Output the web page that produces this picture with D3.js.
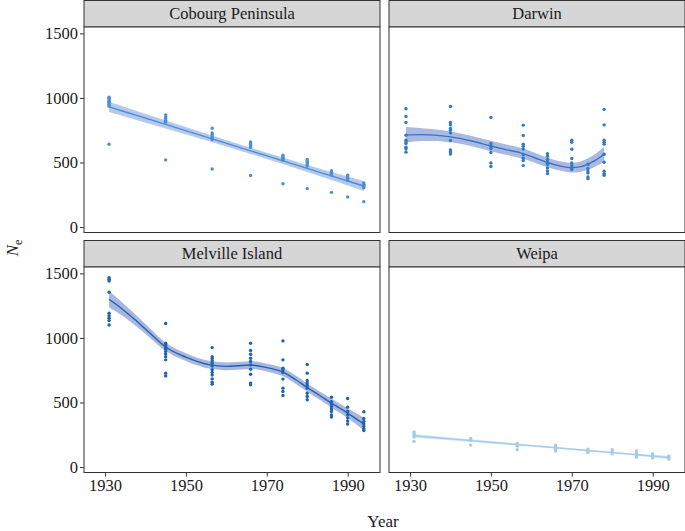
<!DOCTYPE html>
<html>
<head>
<meta charset="utf-8">
<script src="https://cdn.jsdelivr.net/npm/d3@7"></script>
<style>
  body { margin: 0; background: #fff; }
  svg { display: block; }
  svg text { font-family: "Liberation Serif", "Times New Roman", Tinos, Times, "DejaVu Serif", serif !important; fill: #1a1a1a; }
</style>
</head>
<body>
<div id="chart"></div>
<script>
// ---------------- data ----------------
const sites = ["Cobourg Peninsula", "Darwin", "Melville Island", "Weipa"];
const yTicks = [0, 500, 1000, 1500];
const xTicks = [1930, 1950, 1970, 1990];

const sampleYears = [1931, 1945, 1956.5, 1966, 1974, 1980, 1986, 1990, 1994];
const darwinYears = [1929, 1940, 1950, 1958, 1964, 1970, 1974, 1978];

const cobourgNe = [
  [1006, 995, 985, 975, 965, 955, 945, 935, 641],
  [869, 855, 840, 825, 812, 520],
  [766, 729, 715, 700, 690, 678, 450],
  [660, 650, 640, 630, 618, 399],
  [556, 545, 535, 525, 517, 336],
  [523, 510, 498, 485, 473, 298],
  [437, 425, 413, 403, 269],
  [401, 390, 378, 362, 233],
  [341, 332, 323, 313, 305, 197]
];
const darwinNe = [
  [916, 856, 810, 711, 673, 660, 647, 618, 605, 580],
  [934, 810, 791, 763, 750, 729, 670, 597, 582, 566],
  [849, 647, 628, 608, 577, 497, 469],
  [789, 709, 642, 626, 605, 559, 533, 515, 476],
  [569, 548, 523, 500, 486, 458, 434, 414],
  [673, 657, 603, 531, 497, 476, 458, 445],
  [486, 453, 434, 419, 388, 375],
  [911, 791, 673, 657, 642, 564, 502, 432, 414, 401]
];
const melvilleNe = [
  [1466, 1454, 1441, 1353, 1191, 1172, 1152, 1134, 1100],
  [1111, 959, 943, 928, 913, 894, 876, 855, 830, 727, 706],
  [925, 855, 840, 824, 804, 783, 753, 732, 712, 683, 657, 642],
  [959, 902, 874, 843, 817, 791, 758, 719, 650, 637],
  [977, 830, 766, 753, 732, 681, 611, 585, 554],
  [794, 727, 670, 650, 631, 611, 572, 546, 521],
  [541, 507, 490, 469, 449, 430, 404, 387],
  [531, 464, 430, 404, 379, 356, 333],
  [428, 376, 353, 333, 314, 296, 283]
];
const weipaNe = [
  [271, 258, 244, 232, 198],
  [221, 209, 170],
  [183, 172, 162, 134],
  [170, 155, 139, 124],
  [139, 126, 113],
  [134, 118, 103],
  [124, 108, 93, 77],
  [103, 87, 70],
  [87, 72, 62]
];

// fitted smooths (value, lower, upper)
const cobourgFitYears = [1931, 1945, 1956.5, 1966, 1974, 1980, 1986, 1990, 1994];
const cobourgFit   = [931, 795, 683, 590, 513, 454, 396, 357, 318];
const cobourgLower = [891, 764, 657, 566, 488, 427, 365, 322, 279];
const cobourgUpper = [971, 826, 709, 614, 538, 481, 427, 392, 357];

const darwinFitYears = [1929, 1933, 1936, 1940, 1945, 1950, 1954, 1958, 1961, 1964, 1967, 1970, 1972, 1974, 1976, 1978];
const darwinFit   = [714, 716, 712, 698, 668, 628, 598, 569, 535, 500, 474, 460, 466, 488, 520, 564];
const darwinLower = [654, 666, 667, 656, 628, 588, 558, 529, 497, 464, 438, 422, 426, 443, 470, 506];
const darwinUpper = [774, 766, 757, 740, 708, 668, 638, 609, 573, 536, 510, 498, 506, 533, 570, 622];

const melvilleFitYears = [1931, 1934, 1937, 1941, 1945, 1950, 1956, 1960, 1966, 1970, 1974, 1977, 1980, 1983, 1986, 1990, 1994];
const melvilleFit   = [1299, 1230, 1152, 1040, 930, 851, 791, 780, 790, 770, 735, 680, 616, 556, 495, 418, 333];
const melvilleLower = [1235, 1178, 1108, 1004, 898, 821, 761, 750, 760, 740, 703, 648, 584, 524, 461, 380, 285];
const melvilleUpper = [1363, 1282, 1196, 1076, 962, 881, 821, 810, 820, 800, 767, 712, 648, 588, 529, 456, 381];

const weipaFitYears = [1931, 1945, 1956.5, 1966, 1974, 1980, 1986, 1990, 1994];
const weipaFit   = [242, 205, 175, 150, 128, 112, 96, 85, 74];
const weipaLower = [228, 195, 167, 143, 121, 105, 88, 75, 62];
const weipaUpper = [256, 215, 183, 157, 135, 119, 104, 95, 86];

const pointColors  = ["#4a8fd6", "#2f7bc3", "#1d64ad", "#a3cbec"];
const lineColors   = ["#4a8fd6", "#2f7bc3", "#1d64ad", "#a3cbec"];
const ribbonColors = ["#b6c8eb", "#aab8e2", "#a9b6e0", "#d6e6f6"];

// ---------------- build ----------------
const W = 685, H = 531;
const FONT = '"Liberation Serif", "Times New Roman", Tinos, Times, "DejaVu Serif", serif';
const svg = d3.select("#chart").append("svg").attr("width", W).attr("height", H)
  .attr("font-family", FONT);

const panels = [
  { name: sites[0], years: sampleYears, ne: cobourgNe, fy: cobourgFitYears, f: cobourgFit, lo: cobourgLower, hi: cobourgUpper, col: 0, row: 0 },
  { name: sites[1], years: darwinYears, ne: darwinNe, fy: darwinFitYears, f: darwinFit, lo: darwinLower, hi: darwinUpper, col: 1, row: 0 },
  { name: sites[2], years: sampleYears, ne: melvilleNe, fy: melvilleFitYears, f: melvilleFit, lo: melvilleLower, hi: melvilleUpper, col: 0, row: 1 },
  { name: sites[3], years: sampleYears, ne: weipaNe, fy: weipaFitYears, f: weipaFit, lo: weipaLower, hi: weipaUpper, col: 1, row: 1 }
];

const colX = [84, 389];
const panelW = 296;
const rowStripTop = [0.5, 240.5];
const stripH = 26.5;
const plotH = 205.5;

panels.forEach((p, i) => {
  const x0 = colX[p.col];
  const st = rowStripTop[p.row];
  const y0 = st + stripH;
  const x = d3.scaleLinear().domain([1924.8, 1998]).range([x0, x0 + panelW]);
  const y = d3.scaleLinear().domain([-42, 1549]).range([y0 + plotH, y0]);
  const g = svg.append("g");

  // strip
  g.append("rect").attr("x", x0).attr("y", st).attr("width", panelW).attr("height", stripH)
    .attr("fill", "#d6d6d6").attr("stroke", "#333").attr("stroke-width", 1);
  g.append("text").attr("x", x0 + panelW / 2).attr("y", st + stripH / 2 + 5.5)
    .attr("text-anchor", "middle").attr("font-size", 16.5).style("font-family", FONT).text(p.name);

  // panel background
  g.append("rect").attr("x", x0).attr("y", y0).attr("width", panelW).attr("height", plotH)
    .attr("fill", "#fff");

  // ribbon
  const band = p.fy.map((yr, k) => ({ yr, lo: p.lo[k], hi: p.hi[k], f: p.f[k] }));
  g.append("path").datum(band)
    .attr("d", d3.area().curve(d3.curveMonotoneX)
      .x(d => x(d.yr)).y0(d => y(d.lo)).y1(d => y(d.hi)))
    .attr("fill", ribbonColors[i]);

  // points
  const pts = [];
  p.years.forEach((yr, k) => p.ne[k].forEach(v => pts.push({ yr, v })));
  g.selectAll("circle.pt").data(pts).join("circle")
    .attr("cx", d => x(d.yr)).attr("cy", d => y(d.v)).attr("r", 1.7)
    .attr("fill", pointColors[i]);

  // fit line
  g.append("path").datum(band)
    .attr("d", d3.line().curve(d3.curveMonotoneX).x(d => x(d.yr)).y(d => y(d.f)))
    .attr("fill", "none").attr("stroke", lineColors[i]).attr("stroke-width", 1.4);

  // border
  g.append("rect").attr("x", x0).attr("y", y0).attr("width", panelW).attr("height", plotH)
    .attr("fill", "none").attr("stroke", "#333").attr("stroke-width", 1);

  // axes
  if (p.col === 0) {
    const ya = g.append("g").attr("transform", `translate(${x0},0)`)
      .call(d3.axisLeft(y).tickValues(yTicks).tickSize(4).tickPadding(2).tickFormat(d3.format("d")));
    ya.attr("font-family", FONT);
    ya.select(".domain").remove();
    ya.selectAll("line").attr("stroke", "#333");
    ya.selectAll("text").attr("font-size", 16.5).attr("fill", "#1a1a1a").style("font-family", FONT);
  }
  if (p.row === 1) {
    const xa = g.append("g").attr("transform", `translate(0,${y0 + plotH})`)
      .call(d3.axisBottom(x).tickValues(xTicks).tickSize(4).tickPadding(3).tickFormat(d3.format("d")));
    xa.attr("font-family", FONT);
    xa.select(".domain").remove();
    xa.selectAll("line").attr("stroke", "#333");
    xa.selectAll("text").attr("font-size", 16.5).attr("fill", "#1a1a1a").style("font-family", FONT);
  }
});

// axis titles
svg.append("text").attr("x", 383).attr("y", 527).attr("text-anchor", "middle")
  .attr("font-size", 17).style("font-family", FONT).text("Year");

const yl = svg.append("text").attr("transform", "translate(18,248) rotate(-90)")
  .attr("text-anchor", "middle").attr("font-size", 17).style("font-family", FONT);
yl.append("tspan").attr("font-style", "italic").text("N");
yl.append("tspan").attr("font-size", 12).attr("dy", 4).text("e");
</script>
</body>
</html>
